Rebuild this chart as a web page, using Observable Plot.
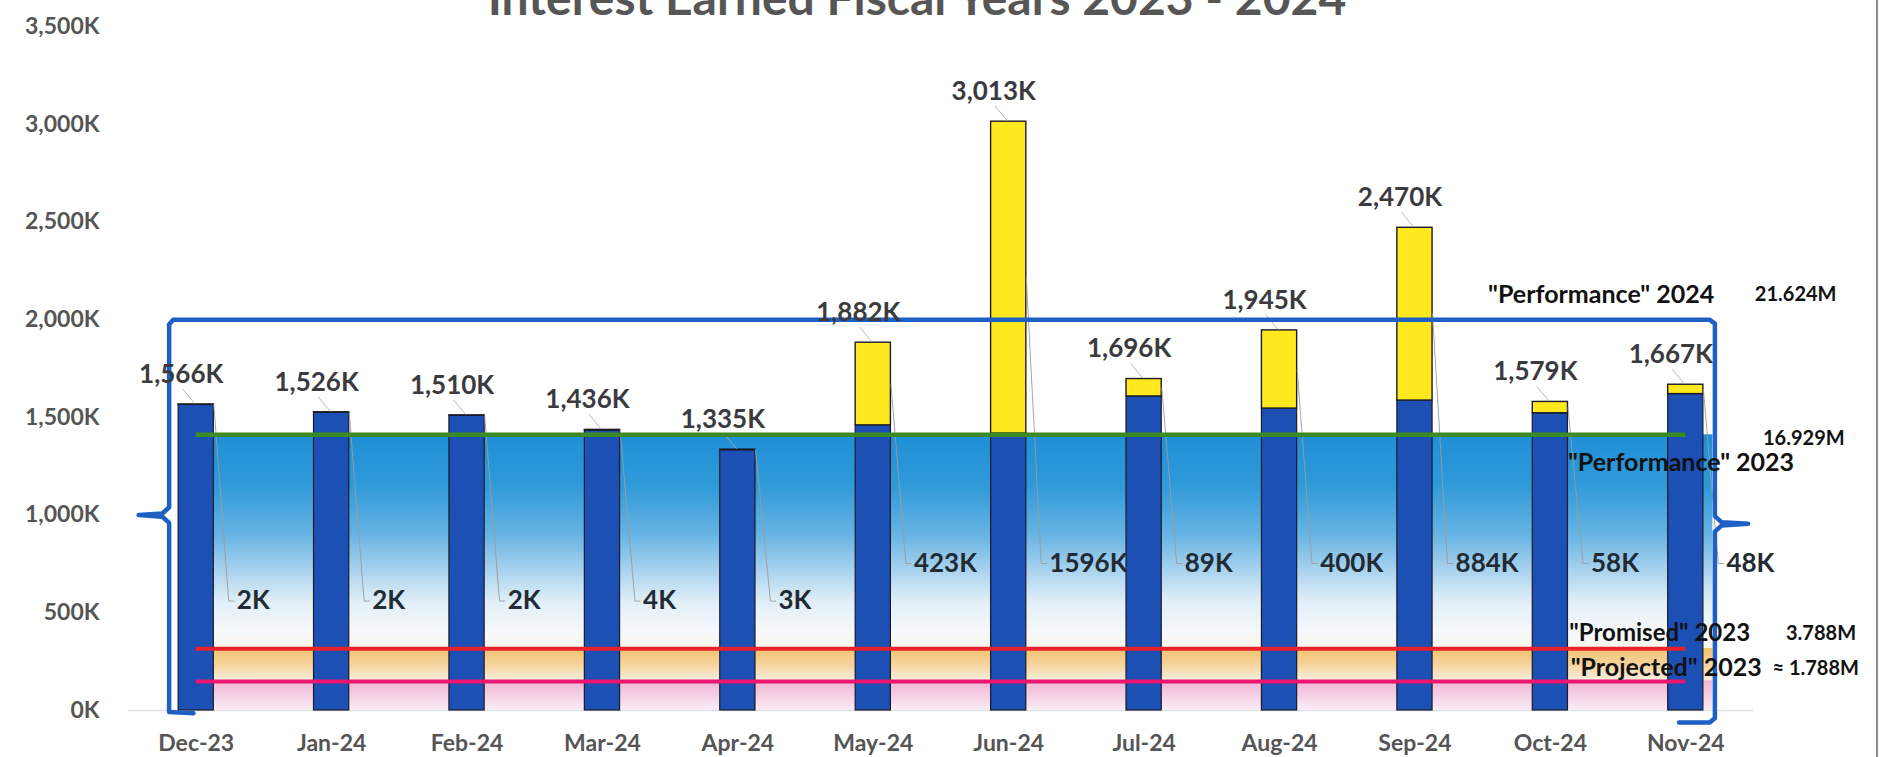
<!DOCTYPE html>
<html><head><meta charset="utf-8">
<script src="https://cdn.jsdelivr.net/npm/d3@7"></script>
<script src="https://cdn.jsdelivr.net/npm/@observablehq/plot@0.6"></script>
<style>
html,body{margin:0;padding:0;background:#fff;overflow:hidden;}
#wrap{position:relative;width:1879px;height:757px;overflow:hidden;background:#fff;}
#chart{position:absolute;left:0;top:0;}
#title{position:absolute;left:0;width:1834px;top:-32px;text-align:center;font:700 48px/1.2 Lato, sans-serif;color:#565656;white-space:nowrap;}
#edge{position:absolute;right:1px;top:0;width:2px;height:757px;background:#8c8c8c;}
</style></head>
<body>
<div id="wrap"><div id="chart"></div><div id="title">Interest Earned Fiscal Years 2023 - 2024</div><div id="edge"></div></div>
<script>
// ---- data ----
const months = ["Dec-23","Jan-24","Feb-24","Mar-24","Apr-24","May-24","Jun-24","Jul-24","Aug-24","Sep-24","Oct-24","Nov-24"];
const totalsK = [1566,1526,1510,1436,1335,1882,3013,1696,1945,2470,1579,1667];
const increaseK = [2,2,2,4,3,423,1596,89,400,884,58,48];
const yTicksK = [0,500,1000,1500,2000,2500,3000,3500];
const refNames = ['"Performance" 2023','"Promised" 2023','"Projected" 2023'];
const refTotalsM = [16.929, 3.788, 1.788];
const refAmountLabels = ["16.929M","3.788M","\u2248 1.788M"];
const perf2024Name = '"Performance" 2024';
const perf2024Amount = "21.624M";
const braceTopK = 2000;

// ---- derived tables ----
const rows = months.map((m,i)=>({i, month:m, total:totalsK[i], inc:increaseK[i], base:totalsK[i]-increaseK[i]}));
const refs = refNames.map((n,k)=>({name:n, amount:refAmountLabels[k], monthly:refTotalsM[k]*1000/12}));
const smallLabelY = 560, largeLabelY = 752;
const labelY = d => d.inc < 10 ? smallLabelY : largeLabelY;
const leaders = rows.flatMap(d => [
  {month:d.month, x:d.i+0.13, y:d.base + d.inc/2},
  {month:d.month, x:d.i+0.24, y:labelY(d)},
  {month:d.month, x:d.i+0.28, y:labelY(d)}
]);
const perfTop = refs[0].monthly;

// brace geometry (annotation)
const bL = -0.2, bR = 11.215;
const brace = [
  {x:-0.02, y:-14},{x:bL, y:-8},{x:bL, y:960},{x:bL-0.05,y:992},{x:-0.425,y:1000},{x:bL-0.05,y:1008},{x:bL,y:1040},
  {x:bL, y:1975},{x:bL+0.03,y:braceTopK},{x:bR-0.04,y:braceTopK},{x:bR,y:1980},
  {x:bR, y:995},{x:bR+0.05,y:963},{x:11.46,y:955},{x:bR+0.05,y:947},{x:bR,y:915},
  {x:bR, y:-40},{x:bR-0.04,y:-62},{x:10.95,y:-62}
];

const BLUE="#1c50b5", YELLOW="#ffe81e", OUTLINE="#1b1b28";
const font = "Lato, sans-serif";

const plot = Plot.plot({
  width:1879, height:757,
  marginLeft:128, marginRight:126, marginTop:26, marginBottom:47,
  x:{domain:[-0.5,11.5]},
  y:{domain:[0,3500]},
  style:{fontFamily:font, fontWeight:"bold", background:"transparent", overflow:"visible"},
  marks:[
    Plot.rect([0], {x1:0, x2:11.2, y1:0, y2:perfTop, fill:"url(#bgGrad)"}),
    Plot.ruleY([0], {stroke:"#dde1e6", strokeWidth:1.5}),
    Plot.rect(rows, {x1:d=>d.i-0.13, x2:d=>d.i+0.13, y1:0, y2:"base", fill:BLUE, stroke:OUTLINE, strokeWidth:1.2}),
    Plot.rect(rows, {x1:d=>d.i-0.13, x2:d=>d.i+0.13, y1:"base", y2:"total", fill:YELLOW, stroke:OUTLINE, strokeWidth:1.4}),
    Plot.line(leaders, {x:"x", y:"y", z:"month", stroke:"#9c9c9c", strokeWidth:0.9}),
    Plot.link(rows, {x1:d=>d.i-0.1, y1:d=>d.total+80, x2:d=>d.i-0.01, y2:d=>d.total+4, stroke:"#a8a8a8", strokeWidth:0.8}),
    Plot.ruleY([refs[0]], {y:"monthly", x1:0, x2:11, stroke:"#3c8a22", strokeWidth:4.5}),
    Plot.ruleY([refs[1]], {y:"monthly", x1:0, x2:11, stroke:"#e8222b", strokeWidth:4}),
    Plot.ruleY([refs[2]], {y:"monthly", x1:0, x2:11, stroke:"#ea1670", strokeWidth:4}),
    Plot.line(brace, {x:"x", y:"y", stroke:"#1d5fc2", strokeWidth:4.5, curve:"linear", strokeLinejoin:"round", strokeLinecap:"round"}),
    Plot.text(rows, {x:"i", y:"total", text:d=>d3.format(",")(d.total)+"K", dx:-15, dy:-30, fontSize:26, fill:"#3a3a3f"}),
    Plot.text(rows, {x:d=>d.i+0.3, y:labelY, text:d=>d.inc+"K", textAnchor:"start", fontSize:26, fill:"#222a33"}),
    // right side annotations
    Plot.text([0], {x:9.54, y:braceTopK, text:[perf2024Name], textAnchor:"start", dy:-25, fontSize:25, fill:"#111"}),
    Plot.text([0], {x:11.51, y:braceTopK, text:[perf2024Amount], textAnchor:"start", dy:-25, fontSize:20, fill:"#111"}),
    Plot.text([refs[0]], {x:10.13, y:"monthly", text:"name", textAnchor:"start", dy:28, fontSize:25, fill:"#111"}),
    Plot.text([refs[0]], {x:11.57, y:"monthly", text:"amount", textAnchor:"start", dy:4, fontSize:20, fill:"#111"}),
    Plot.text([refs[1]], {x:10.14, y:"monthly", text:"name", textAnchor:"start", dy:-15, fontSize:24, fill:"#111"}),
    Plot.text([refs[1]], {x:11.74, y:"monthly", text:"amount", textAnchor:"start", dy:-15, fontSize:20, fill:"#111"}),
    Plot.text([refs[2]], {x:10.15, y:"monthly", text:"name", textAnchor:"start", dy:-13, fontSize:25, fill:"#111"}),
    Plot.text([refs[2]], {x:11.64, y:"monthly", text:"amount", textAnchor:"start", dy:-13, fontSize:20, fill:"#111"}),
    Plot.axisY({ticks:yTicksK, tickFormat:d=>d3.format(",")(d)+"K", tickSize:0, tickPadding:29, fontSize:23, color:"#555"}),
    Plot.axisX({ticks:d3.range(months.length), tickFormat:i=>months[i], tickSize:0, tickPadding:24, fontSize:23, color:"#555"})
  ]
});

// gradient definition for the background band
const stops = [
  [1410,"#1f8fd6"],[1150,"#2f9ad9"],[900,"#66b3e3"],[700,"#aed5ef"],[550,"#e2eff8"],[400,"#f6f8fa"],
  [320,"#fbf6ee"],[315.7,"#f2c26e"],[230,"#f6d49e"],[155,"#faeedc"],[149,"#f0b4d4"],[60,"#f5d5e7"],[0,"#fbeef5"]
];
const defs = d3.select(plot).insert("defs", ":first-child");
const grad = defs.append("linearGradient").attr("id","bgGrad").attr("x1",0).attr("y1",0).attr("x2",0).attr("y2",1);
stops.forEach(([v,c]) => grad.append("stop").attr("offset", Math.max(0,Math.min(1,1 - v/perfTop))).attr("stop-color", c));

document.getElementById("chart").appendChild(plot);
</script>
</body></html>
